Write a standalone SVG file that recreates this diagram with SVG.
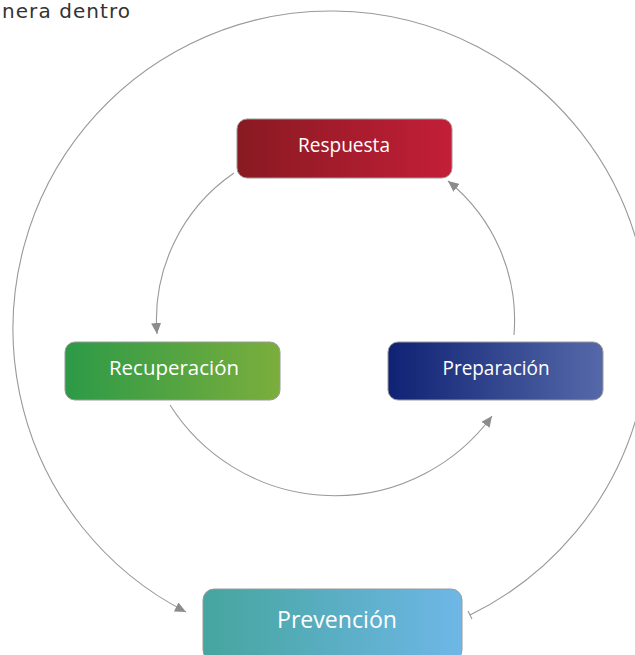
<svg xmlns="http://www.w3.org/2000/svg" width="635" height="655" viewBox="0 0 635 655">
<style>
.box{stroke:#9a9a9a;stroke-width:1}
.lbl{font-family:"Open Sans","Noto Sans","Liberation Sans",sans-serif;fill:#ffffff;text-anchor:middle}
.conn{fill:none;stroke:#999999;stroke-width:1.1}
</style>
<defs>
<linearGradient id="gRed" x1="0" y1="0" x2="1" y2="0"><stop offset="0" stop-color="#881A22"/><stop offset="1" stop-color="#C31E38"/></linearGradient>
<linearGradient id="gGreen" x1="0" y1="0" x2="1" y2="0"><stop offset="0" stop-color="#2C9A47"/><stop offset="1" stop-color="#7BAE3C"/></linearGradient>
<linearGradient id="gBlue" x1="0" y1="0" x2="1" y2="0"><stop offset="0" stop-color="#0F2274"/><stop offset="1" stop-color="#5569A9"/></linearGradient>
<linearGradient id="gTeal" x1="0" y1="0" x2="1" y2="0"><stop offset="0" stop-color="#45A59E"/><stop offset="1" stop-color="#6EB7E7"/></linearGradient>
<marker id="arrow" markerUnits="userSpaceOnUse" markerWidth="12" markerHeight="10" refX="11" refY="5" orient="auto"><path d="M0,0 L11,5 L0,10 Z" fill="#8c8c8c"/></marker>
<marker id="tee" markerUnits="userSpaceOnUse" markerWidth="4" markerHeight="12" refX="1" refY="6" orient="auto"><path d="M1,1.5 L1,10.5" stroke="#999999" stroke-width="1.1"/></marker>
</defs>
<rect width="635" height="655" fill="#ffffff"/>
<text x="2" y="18" font-family="DejaVu Sans,Verdana,sans-serif" font-size="20" fill="#333333" textLength="128">nera dentro</text>
<g id="connectors">
<path class="conn" d="M470,615 A318,318 0 1 0 186,612" marker-start="url(#tee)" marker-end="url(#arrow)"/>
<path class="conn" d="M234,173 A178,178 0 0 0 157,334" marker-end="url(#arrow)"/>
<path class="conn" d="M170,405 A195,195 0 0 0 492,416" marker-end="url(#arrow)"/>
<path class="conn" d="M514,335 A179,179 0 0 0 448,181" marker-end="url(#arrow)"/>
</g>
<g id="respuesta">
<rect class="box" x="237" y="119" width="215" height="59" rx="10" fill="url(#gRed)"/>
<text class="lbl" x="344" y="152" font-size="20" textLength="92" lengthAdjust="spacingAndGlyphs">Respuesta</text>
</g>
<g id="recuperacion">
<rect class="box" x="65" y="342" width="215" height="58" rx="10" fill="url(#gGreen)"/>
<text class="lbl" x="174" y="375" font-size="20" textLength="130" lengthAdjust="spacingAndGlyphs">Recuperación</text>
</g>
<g id="preparacion">
<rect class="box" x="388" y="342" width="215" height="58" rx="10" fill="url(#gBlue)"/>
<text class="lbl" x="496" y="375" font-size="20" textLength="107" lengthAdjust="spacingAndGlyphs">Preparación</text>
</g>
<g id="prevencion">
<rect class="box" x="203" y="589" width="259" height="72" rx="11" fill="url(#gTeal)"/>
<text class="lbl" x="337" y="628" font-size="24" textLength="120" lengthAdjust="spacingAndGlyphs">Prevención</text>
</g>
</svg>
